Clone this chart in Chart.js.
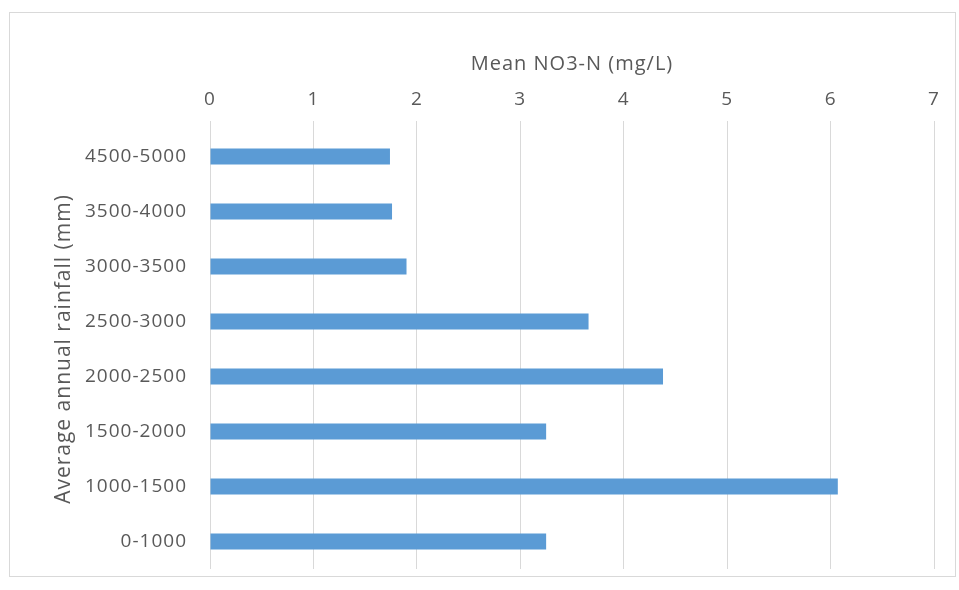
<!DOCTYPE html>
<html>
<head>
<meta charset="utf-8">
<script src="https://cdn.jsdelivr.net/npm/chart.js@4"></script>
<style>
  html, body { margin: 0; padding: 0; background: #fff; }
  #wrap { position: relative; width: 959px; height: 590px; }
  #frame { position: absolute; left: 9px; top: 12px; width: 947px; height: 565px; border: 1px solid #d9d9d9; box-sizing: border-box; }
  #chart { position: absolute; left: 0; top: 0; }
</style>
</head>
<body>
<div id="wrap">
  <div id="frame"></div>
  <canvas id="chart" width="959" height="590"></canvas>
</div>
<script>
// ═══════════════════════════════════════════════════════
//  DATI
// ═══════════════════════════════════════════════════════
const rainfallClasses = ['0-1000', '1000-1500', '1500-2000', '2000-2500', '2500-3000', '3000-3500', '3500-4000', '4500-5000'];
const meanNO3N       = [3.25, 6.07, 3.25, 4.38, 3.66, 1.90, 1.76, 1.74];
const xTicks         = [0, 1, 2, 3, 4, 5, 6, 7];

const xTitle = 'Mean NO3-N (mg/L)';
const yTitle = 'Average annual rainfall (mm)';

const TXT  = '#595959';
const GRID = '#d9d9d9';
const FONT = "'Open Sans', sans-serif";

// il testo del riferimento è un po' "stirato" in orizzontale
const spacing = {
  id: 'spacing',
  beforeUpdate: c => { c.ctx.letterSpacing = '1px'; },
  beforeDraw:   c => { c.ctx.letterSpacing = '1px'; }
};

// ═══════════════════════════════════════════════════════
//  GRAFICO
// ═══════════════════════════════════════════════════════
new Chart(document.getElementById('chart'), {
  type: 'bar',
  data: {
    labels: rainfallClasses,
    datasets: [{ data: meanNO3N, backgroundColor: '#5b9bd5', borderWidth: 0, categoryPercentage: 1, barPercentage: 0.29 }]
  },
  plugins: [spacing],
  options: {
    indexAxis: 'y',
    responsive: false,
    animation: false,
    layout: { padding: { left: 51, top: 52, right: 25, bottom: 21 } },
    plugins: { legend: { display: false }, tooltip: { enabled: false } },
    scales: {
      x: {
        position: 'top',
        min: xTicks[0], max: xTicks[xTicks.length - 1],
        afterBuildTicks: s => { s.ticks = xTicks.map(v => ({ value: v })); },
        afterFit: s => { s.height = 77; },
        grid: { color: GRID, lineWidth: 1, tickLength: 8, tickColor: GRID },
        border: { display: false },
        ticks: { color: TXT, font: { family: FONT, size: 19 }, padding: 10 },
        title: { display: true, text: xTitle, color: TXT, font: { family: FONT, size: 20 }, padding: 0 }
      },
      y: {
        reverse: true,
        afterFit: s => { s.width = 159; s.paddingTop = 0; s.paddingBottom = 0; },
        grid: { display: false, drawTicks: false },
        border: { display: false },
        ticks: { color: TXT, font: { family: FONT, size: 19 }, padding: 23 },
        title: { display: true, text: yTitle, color: TXT, font: { family: FONT, size: 21 }, padding: 0 }
      }
    }
  }
});
</script>
</body>
</html>
